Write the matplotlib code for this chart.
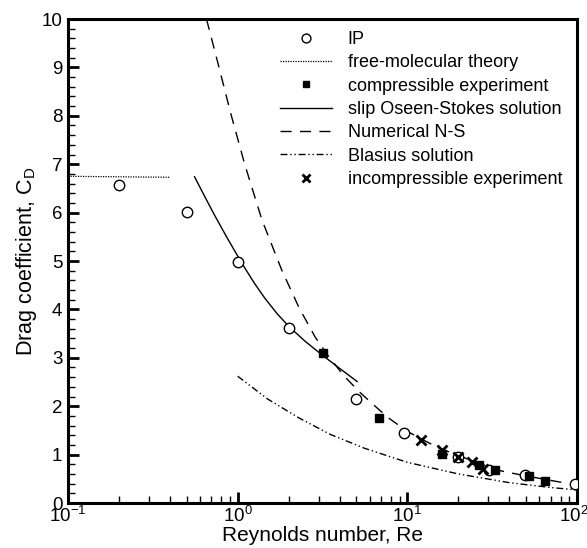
import matplotlib
matplotlib.use("Agg")
import matplotlib.pyplot as plt
from matplotlib.ticker import FixedLocator, LogLocator, NullFormatter, FixedFormatter
from matplotlib.transforms import ScaledTranslation

plt.rcParams['font.family'] = ['Liberation Sans', 'DejaVu Sans']
plt.rcParams['mathtext.fontset'] = 'custom'
plt.rcParams['mathtext.rm'] = 'Liberation Sans'
plt.rcParams['mathtext.it'] = 'Liberation Sans'

# IP (open circles)
ip_re = [0.2, 0.5, 1.0, 2.0, 5.0, 9.6, 20.0, 30.2, 49.2, 97.4]
ip_cd = [6.58, 6.01, 4.97, 3.62, 2.15, 1.45, 0.95, 0.68, 0.58, 0.39]

# free-molecular theory
fm_re = [0.1, 0.4]
fm_cd = [6.75, 6.73]

# compressible experiment (filled squares)
ce_re = [3.18, 6.8, 16.0, 26.3, 32.7, 52.0, 64.6]
ce_cd = [3.10, 1.76, 1.02, 0.78, 0.68, 0.55, 0.46]

# slip Oseen-Stokes solution
os_re = [0.557, 0.64, 0.73, 0.86, 1.06, 1.25, 1.44, 1.7, 2.0, 2.5, 3.14, 4.1, 5.06]
os_cd = [6.74, 6.33, 5.95, 5.50, 4.95, 4.55, 4.24, 3.92, 3.65, 3.34, 3.06, 2.75, 2.51]

# Numerical N-S
ns_re = [0.655, 0.77, 0.91, 1.10, 1.39, 1.82, 2.29, 2.86, 3.45, 4.2, 5.2, 6.36, 7.8, 10.0, 15.0, 20.0, 30.0, 36.0, 50.0, 83.0]
ns_cd = [10.0, 9.05, 8.05, 7.0, 5.85, 4.81, 4.05, 3.43, 3.02, 2.64, 2.30, 2.02, 1.75, 1.48, 1.15, 0.98, 0.75, 0.66, 0.56, 0.42]

# Blasius solution
bl_re = [1.0, 1.5, 2.29, 3.5, 5.6, 10.0, 20.0, 40.0, 70.0, 100.0]
bl_cd = [2.62, 2.15, 1.76, 1.42, 1.13, 0.84, 0.60, 0.42, 0.32, 0.27]

# incompressible experiment (x)
ie_re = [12.0, 15.9, 20.0, 23.9, 28.0]
ie_cd = [1.30, 1.10, 0.95, 0.85, 0.70]

fig = plt.figure(figsize=(5.87, 5.48), dpi=100)
ax = fig.add_axes([68/587, 1-503/548, (577-68)/587, (503-19)/548])

ax.plot(ip_re, ip_cd, 'o', mfc='white', mec='black', ms=7.5, mew=1.0, ls='none', label='IP', zorder=5)
ax.plot(fm_re, fm_cd, color='black', lw=0.9, ls=(0, (1, 1)), label='free-molecular theory')
ax.plot(ce_re, ce_cd, 's', color='black', ms=5.5, ls='none', label='compressible experiment', zorder=6)
ax.plot(os_re, os_cd, color='black', lw=1.0, ls='-', label='slip Oseen-Stokes solution')
ax.plot(ns_re, ns_cd, color='black', lw=1.0, ls=(0, (8, 6)), label='Numerical N-S')
ax.plot(bl_re, bl_cd, color='black', lw=1.0, ls=(0, (5, 2, 1, 2, 1, 2)), label='Blasius solution')
ax.plot(ie_re, ie_cd, 'x', color='black', ms=6.5, mew=2.0, ls='none', label='incompressible experiment', zorder=6)

ax.set_xscale('log')
ax.set_xlim(0.1, 100)
ax.set_ylim(0, 10)

ax.xaxis.set_major_locator(FixedLocator([0.1, 1, 10, 100]))
ax.xaxis.set_major_formatter(FixedFormatter([r'$10^{-1}$', r'$10^{0}$', r'$10^{1}$', r'$10^{2}$']))
ax.xaxis.set_minor_locator(LogLocator(base=10, subs=[2, 3, 4, 5, 6, 7, 8, 9]))
ax.xaxis.set_minor_formatter(NullFormatter())
ax.yaxis.set_major_locator(FixedLocator(list(range(0, 11))))
ax.yaxis.set_minor_locator(FixedLocator([i * 0.2 for i in range(51)]))

ax.tick_params(axis='both', which='major', direction='in', length=8, width=2, labelsize=13.5, pad=4)
ax.tick_params(axis='both', which='minor', direction='in', length=5, width=1)
ax.tick_params(axis='x', which='major', pad=2)

for sp in ax.spines.values():
    sp.set_linewidth(2.2)

ax.set_xlabel('Reynolds number, Re', fontsize=15)
ax.xaxis.set_label_coords(0.5, -(526 - 503) / 484)
ax.set_ylabel(r'Drag coefficient, C$_\mathregular{D}$', fontsize=15.5, labelpad=2)

leg = ax.legend(loc='upper left', bbox_to_anchor=(0.4165, 0.975), frameon=False,
                fontsize=13, handlelength=2.9, handletextpad=0.85, labelspacing=0.35,
                borderpad=0, borderaxespad=0, markerscale=0.85)

fig.canvas.draw()
labs = ax.get_xticklabels()
labs[-1].set_transform(labs[-1].get_transform() + ScaledTranslation(-2.5/72, 0, fig.dpi_scale_trans))

fig.savefig('out.png', dpi=100)
